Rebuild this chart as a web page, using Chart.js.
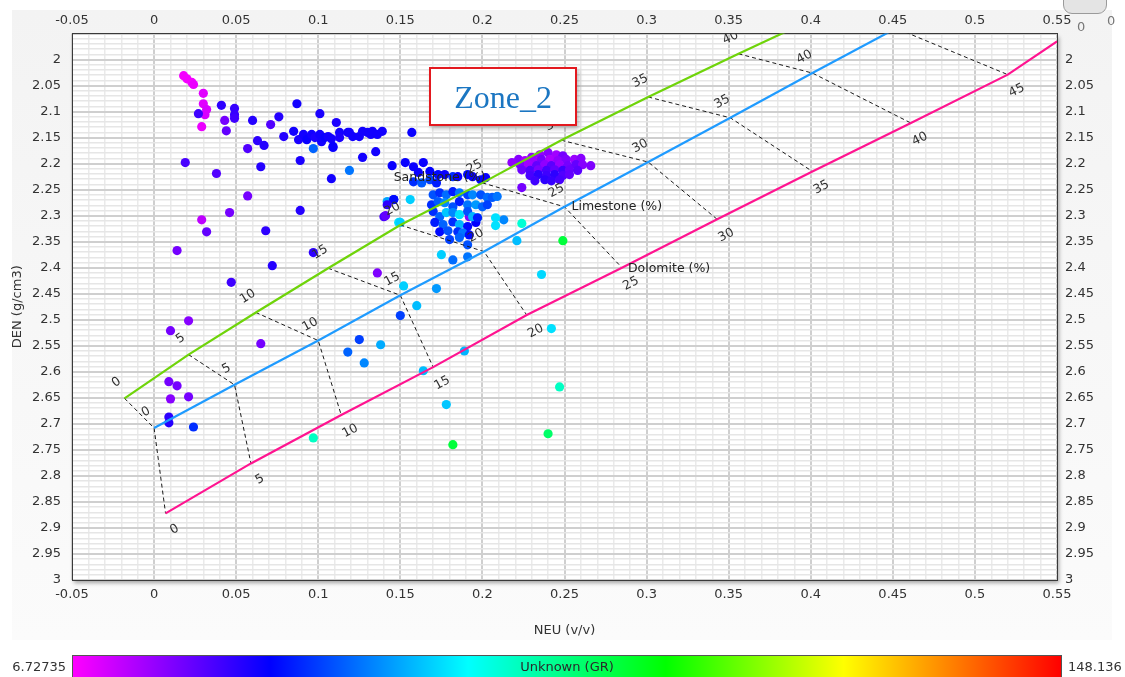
<!DOCTYPE html>
<html>
<head>
<meta charset="utf-8">
<script src="https://cdn.jsdelivr.net/npm/chart.js@4.4.1/dist/chart.umd.min.js"></script>
<style>
  html, body { margin: 0; padding: 0; background: #ffffff; }
  #wrap { position: relative; width: 1125px; height: 677px; overflow: hidden; font-family: "DejaVu Sans", sans-serif; }
  #panel { position: absolute; left: 12px; top: 10px; width: 1100px; height: 630px; background: linear-gradient(#f3f3f3, #fbfbfb); }
  #c { position: absolute; left: 0; top: 0; }
  #zone { position: absolute; left: 429px; top: 67px; width: 144px; height: 55px; border: 2px solid #e3191f; background: #ffffff;
          box-shadow: 2px 3px 4px rgba(0,0,0,0.25); font-family: "Liberation Serif", serif; font-size: 32px; color: #1b76c2;
          text-align: center; line-height: 56px; }
  #cbar { position: absolute; left: 72px; top: 655px; width: 990px; height: 26px; border: 1px solid #555; box-sizing: border-box; }
  #cbarTitle { position: absolute; left: 72px; top: 659px; width: 990px; text-align: center; font-size: 13px; color: #2a2a2a; }
  .cbLab { position: absolute; top: 659px; font-size: 13px; color: #333; }
  #knob { position: absolute; left: 1063px; top: -6px; width: 42px; height: 18px; border: 1px solid #9a9a9a; border-radius: 0 0 9px 9px; background: #e4e4e4; }
  .knobLab { position: absolute; font-size: 13px; color: #777; }
</style>
</head>
<body>
<div id="wrap">
  <div id="panel"></div>
  <canvas id="c" width="1125" height="677"></canvas>
  <div id="zone">Zone_2</div>
  <div id="cbar"></div>
  <div id="cbarTitle">Unknown (GR)</div>
  <div class="cbLab" id="cbMin" style="right:1059px;"></div>
  <div class="cbLab" id="cbMax" style="left:1068px;"></div>
  <div id="knob"></div>
  <div class="knobLab" style="left:1077px; top:19px;">0</div>
  <div class="knobLab" style="left:1107px; top:13px;">0</div>
</div>
<script>
// ---- Axis ranges ----
const NEU_MIN = -0.05, NEU_MAX = 0.55;
const DEN_MIN = 1.95, DEN_MAX = 3.0;
const GR_MIN = 6.72735, GR_MAX = 148.136;

// ---- Lithology porosity lines (neutron v/v, density g/cm3) ----
const porosity = [0, 5, 10, 15, 20, 25, 30, 35, 40, 45];
const sandNeu = [-0.018, 0.021, 0.062, 0.106, 0.150, 0.200, 0.248, 0.301, 0.356, 0.413];
const sandDen = [2.651, 2.567, 2.486, 2.401, 2.318, 2.237, 2.155, 2.072, 1.989, 1.905];
const limeNeu = [0.000, 0.049, 0.100, 0.150, 0.201, 0.250, 0.301, 0.351, 0.401, 0.452];
const limeDen = [2.708, 2.625, 2.540, 2.453, 2.369, 2.283, 2.197, 2.112, 2.026, 1.940];
const dolNeu  = [0.007, 0.059, 0.114, 0.170, 0.227, 0.285, 0.343, 0.401, 0.461, 0.520];
const dolDen  = [2.872, 2.776, 2.683, 2.591, 2.491, 2.400, 2.307, 2.215, 2.122, 2.029];
const dolEndNeu = 0.550, dolEndDen = 1.965;

// ---- Log samples: NEU, DEN, GR ----
const neu = [
  0.018, 0.020, 0.023, 0.024, 0.030, 0.030, 0.032, 0.031, 0.027, 0.029,
  0.041, 0.049, 0.049, 0.049, 0.043, 0.044, 0.060, 0.071, 0.076, 0.087,
  0.101, 0.111, 0.079, 0.063, 0.067, 0.057, 0.019, 0.038, 0.065, 0.089,
  0.097, 0.108, 0.119, 0.127, 0.135, 0.145, 0.157, 0.057, 0.029, 0.046,
  0.089, 0.032, 0.068, 0.014, 0.072, 0.047, 0.097, 0.136, 0.021, 0.010,
  0.065, 0.009, 0.014, 0.010, 0.021, 0.009, 0.009, 0.024, 0.097, 0.118,
  0.125, 0.128, 0.138, 0.142, 0.146, 0.140, 0.149, 0.150, 0.152, 0.172,
  0.160, 0.164, 0.189, 0.178, 0.182, 0.242, 0.247, 0.240, 0.249, 0.236,
  0.221, 0.224, 0.213, 0.208, 0.208, 0.197, 0.192, 0.196,
  0.085, 0.088, 0.091, 0.093, 0.096, 0.098, 0.101, 0.102, 0.104, 0.106,
  0.108, 0.109, 0.113, 0.113, 0.118, 0.119, 0.121, 0.125, 0.127, 0.130,
  0.132, 0.133, 0.136, 0.139, 0.109,
  0.153, 0.158, 0.161, 0.164, 0.168, 0.173, 0.177, 0.182, 0.185, 0.191,
  0.194, 0.199, 0.202, 0.158, 0.163, 0.168, 0.172, 0.156, 0.146, 0.142,
  0.141, 0.150,
  0.170, 0.174, 0.178, 0.182, 0.186, 0.191, 0.194, 0.199, 0.203, 0.206, 0.209,
  0.169, 0.173, 0.177, 0.182, 0.186, 0.191, 0.196, 0.200, 0.203,
  0.170, 0.174, 0.178, 0.182, 0.186, 0.191, 0.194, 0.197,
  0.171, 0.176, 0.182, 0.186, 0.191,
  0.174, 0.179, 0.185, 0.188, 0.192,
  0.180, 0.186, 0.191, 0.175, 0.182, 0.191,
  0.235, 0.240, 0.245, 0.249, 0.230,
  0.222, 0.226, 0.231, 0.236, 0.241, 0.246, 0.251, 0.256, 0.260,
  0.218, 0.223, 0.228, 0.233, 0.238, 0.242, 0.247, 0.252, 0.257, 0.261, 0.266,
  0.224, 0.229, 0.234, 0.239, 0.244, 0.249, 0.253, 0.258,
  0.229, 0.234, 0.239, 0.244, 0.249, 0.253,
  0.232, 0.238, 0.242, 0.247, 0.224
];
const den = [
  2.031, 2.037, 2.044, 2.048, 2.065, 2.085, 2.096, 2.106, 2.104, 2.129,
  2.088, 2.094, 2.106, 2.113, 2.117, 2.137, 2.117, 2.125, 2.110, 2.085,
  2.104, 2.121, 2.148, 2.156, 2.165, 2.171, 2.198, 2.219, 2.206, 2.194,
  2.171, 2.229, 2.213, 2.188, 2.177, 2.204, 2.140, 2.262, 2.308, 2.294,
  2.290, 2.331, 2.329, 2.367, 2.396, 2.428, 2.371, 2.410, 2.502, 2.521,
  2.546, 2.619, 2.627, 2.652, 2.648, 2.687, 2.698, 2.706, 2.727, 2.562,
  2.538, 2.583, 2.548, 2.273, 2.269, 2.302, 2.313, 2.492, 2.435, 2.440,
  2.473, 2.598, 2.560, 2.663, 2.740, 2.517, 2.629, 2.719, 2.348, 2.413,
  2.348, 2.315, 2.308, 2.304, 2.319, 2.304, 2.302, 2.313,
  2.138, 2.154, 2.144, 2.154, 2.144, 2.150, 2.144, 2.158, 2.150, 2.148,
  2.152, 2.167, 2.140, 2.150, 2.140, 2.140, 2.148, 2.148, 2.138, 2.140,
  2.144, 2.138, 2.144, 2.138, 2.169,
  2.198, 2.206, 2.217, 2.198, 2.215, 2.221, 2.221, 2.225, 2.225, 2.221,
  2.225, 2.231, 2.227, 2.235, 2.237, 2.231, 2.237, 2.269, 2.269, 2.279,
  2.300, 2.313,
  2.260, 2.256, 2.260, 2.254, 2.256, 2.260, 2.260, 2.260, 2.265, 2.265, 2.263,
  2.279, 2.273, 2.275, 2.283, 2.273, 2.279, 2.279, 2.283, 2.279,
  2.292, 2.302, 2.294, 2.294, 2.298, 2.292, 2.302, 2.304,
  2.313, 2.317, 2.312, 2.317, 2.321,
  2.331, 2.329, 2.331, 2.333, 2.337,
  2.346, 2.342, 2.356, 2.375, 2.385, 2.379,
  2.183, 2.179, 2.183, 2.185, 2.188,
  2.192, 2.194, 2.194, 2.192, 2.192, 2.194, 2.192, 2.192, 2.190,
  2.198, 2.202, 2.202, 2.204, 2.202, 2.204, 2.202, 2.204, 2.202, 2.202, 2.204,
  2.212, 2.213, 2.212, 2.213, 2.212, 2.213, 2.212, 2.213,
  2.223, 2.221, 2.223, 2.221, 2.223, 2.221,
  2.233, 2.231, 2.233, 2.231, 2.246
];
const gr = [
  8, 8, 8, 9, 10, 10, 11, 11, 28, 9,
  30, 29, 29, 28, 22, 24, 31, 26, 31, 33,
  32, 32, 31, 30, 31, 26, 27, 26, 31, 32,
  46, 33, 48, 33, 33, 34, 34, 22, 14, 22,
  31, 24, 30, 22, 31, 28, 30, 21, 20, 22,
  22, 22, 22, 20, 22, 30, 31, 40, 70, 46,
  42, 50, 54, 53, 38, 27, 60, 42, 58, 52,
  56, 56, 55, 57, 85, 60, 70, 80, 85, 59,
  56, 68, 50, 60, 60, 60, 20, 35,
  33, 32, 33, 34, 33, 32, 33, 33, 34, 33,
  33, 34, 33, 32, 33, 33, 33, 33, 33, 33,
  33, 33, 33, 33, 34,
  34, 34, 34, 34, 35, 36, 34, 40, 34, 36,
  34, 36, 34, 40, 45, 42, 38, 58, 36, 30,
  24, 58,
  44, 40, 47, 38, 48, 42, 50, 44, 47, 45, 48,
  40, 45, 50, 44, 38, 48, 52, 46, 42,
  40, 46, 57, 50, 60, 44, 55, 38,
  38, 46, 40, 55, 36,
  36, 44, 40, 48, 36,
  42, 46, 44, 58, 47, 48,
  18, 20, 17, 22, 19,
  20, 16, 18, 22, 16, 19, 21, 18, 20,
  19, 21, 17, 24, 19, 25, 18, 22, 24, 20, 21,
  23, 26, 21, 27, 24, 28, 23, 25,
  27, 30, 28, 30, 26, 24,
  28, 30, 29, 27, 22
];

// ---- GR colour ramp ----
const rampStops = [
  [0.00, [255, 0, 255]],
  [0.20, [0, 0, 255]],
  [0.40, [0, 255, 255]],
  [0.60, [0, 255, 0]],
  [0.78, [255, 255, 0]],
  [1.00, [255, 0, 0]]
];
function rampColor(v) {
  let f = (v - GR_MIN) / (GR_MAX - GR_MIN);
  f = Math.max(0, Math.min(1, f));
  for (let i = 1; i < rampStops.length; i++) {
    const [f1, c1] = rampStops[i];
    const [f0, c0] = rampStops[i - 1];
    if (f <= f1) {
      const t = (f - f0) / (f1 - f0);
      const c = c0.map((a, k) => Math.round(a + (c1[k] - a) * t));
      return `rgb(${c[0]},${c[1]},${c[2]})`;
    }
  }
  return 'rgb(255,0,0)';
}

// colour bar legend
document.getElementById('cbar').style.background =
  'linear-gradient(to right,' + rampStops.map(s => `rgb(${s[1].join(',')}) ${s[0] * 100}%`).join(',') + ')';
document.getElementById('cbMin').textContent = String(GR_MIN);
document.getElementById('cbMax').textContent = String(GR_MAX);

// ---- Build datasets ----
const samples = neu.map((x, i) => ({ x, y: den[i] }));
const sampleColors = gr.map(rampColor);
const toPts = (xs, ys) => xs.map((x, i) => ({ x, y: ys[i] }));

const lithologies = [
  { name: 'Sandstone (%)', xs: sandNeu, ys: sandDen, color: '#6fd40a', dx: -8, dy: -16 },
  { name: 'Limestone (%)', xs: limeNeu, ys: limeDen, color: '#1f9bff', dx: -8, dy: -16 },
  { name: 'Dolomite (%)',  xs: dolNeu,  ys: dolDen,  color: '#ff1490', dx: 9,  dy: 16 }
];

const datasets = [];
datasets.push({
  label: 'GR samples', data: samples, order: 3,
  pointRadius: 4.6, pointHoverRadius: 4.6, pointBorderWidth: 0,
  pointBackgroundColor: sampleColors, pointBorderColor: sampleColors, showLine: false
});
lithologies.forEach((L, idx) => {
  const pts = toPts(L.xs, L.ys);
  if (idx === 2) pts.push({ x: dolEndNeu, y: dolEndDen });
  datasets.push({
    label: L.name, data: pts, order: 0, showLine: true, borderColor: L.color,
    borderWidth: 2.2, pointRadius: 0, tension: 0, fill: false
  });
});
porosity.forEach((p, i) => {
  datasets.push({
    label: 'iso ' + p, order: 1, showLine: true, borderColor: '#1a1a1a', borderWidth: 1,
    borderDash: [4, 3], pointRadius: 0, fill: false,
    data: [{ x: sandNeu[i], y: sandDen[i] }, { x: limeNeu[i], y: limeDen[i] }, { x: dolNeu[i], y: dolDen[i] }]
  });
});

// ---- Plugins ----
const plotBackground = {
  id: 'plotBackground',
  beforeDraw(chart) {
    const { ctx, chartArea: a } = chart;
    ctx.save();
    ctx.shadowColor = 'rgba(0,0,0,0.35)';
    ctx.shadowBlur = 4; ctx.shadowOffsetX = 2; ctx.shadowOffsetY = 3;
    ctx.fillStyle = '#ffffff';
    ctx.fillRect(a.left, a.top, a.right - a.left, a.bottom - a.top);
    ctx.restore();
  }
};

const curveLabels = {
  id: 'curveLabels',
  afterDatasetsDraw(chart) {
    const { ctx, chartArea: a, scales } = chart;
    const sx = scales.x, sy = scales.y;
    ctx.save();
    ctx.beginPath(); ctx.rect(a.left, a.top, a.right - a.left, a.bottom - a.top); ctx.clip();
    ctx.font = '12.5px "DejaVu Sans", sans-serif';
    ctx.fillStyle = '#303030';
    ctx.textAlign = 'center'; ctx.textBaseline = 'middle';
    lithologies.forEach(L => {
      const n = L.xs.length;
      L.xs.forEach((v, i) => {
        const px = sx.getPixelForValue(v), py = sy.getPixelForValue(L.ys[i]);
        const j = Math.min(i + 1, n - 1), k = Math.max(i - 1, 0);
        const ang = Math.atan2(sy.getPixelForValue(L.ys[j]) - sy.getPixelForValue(L.ys[k]),
                               sx.getPixelForValue(L.xs[j]) - sx.getPixelForValue(L.xs[k]));
        ctx.save();
        ctx.translate(px + L.dx, py + L.dy);
        ctx.rotate(ang);
        ctx.fillText(String(porosity[i]), 0, 0);
        ctx.restore();
      });
    });
    // lithology names beside the 25 % point
    const i25 = porosity.indexOf(25);
    ctx.fillStyle = '#222';
    ctx.textAlign = 'right';
    ctx.fillText(lithologies[0].name, sx.getPixelForValue(sandNeu[i25]) + 3, sy.getPixelForValue(sandDen[i25]) - 5);
    ctx.textAlign = 'left';
    ctx.fillText(lithologies[1].name, sx.getPixelForValue(limeNeu[i25]) + 7, sy.getPixelForValue(limeDen[i25]));
    ctx.fillText(lithologies[2].name, sx.getPixelForValue(dolNeu[i25]) + 6, sy.getPixelForValue(dolDen[i25]) + 1);
    ctx.restore();
  }
};

// ---- Axes ----
const isMajor = v => Math.abs(v * 20 - Math.round(v * 20)) < 1e-6;
const fmt = v => String(Math.round(v * 100) / 100);
const tickFont = { family: '"DejaVu Sans", sans-serif', size: 13 };
const ticksFor = (pad, hideBelow) => ({
  stepSize: 0.01, autoSkip: false, maxTicksLimit: 200, maxRotation: 0, minRotation: 0,
  font: tickFont, color: '#333', padding: pad,
  callback: v => (isMajor(v) && !(hideBelow !== undefined && v < hideBelow)) ? fmt(v) : ''
});
const gridFor = (minorColor, minorWidth) => ({
  drawTicks: false,
  color: c => (c.tick && isMajor(c.tick.value)) ? '#cfcfcf' : minorColor,
  lineWidth: c => (c.tick && isMajor(c.tick.value)) ? 2 : minorWidth
});
const borderOpt = { display: true, color: '#3a3a3a', width: 1 };

new Chart(document.getElementById('c'), {
  type: 'scatter',
  data: { datasets },
  plugins: [plotBackground, curveLabels],
  options: {
    responsive: false, animation: false, devicePixelRatio: 1,
    layout: { padding: { left: 7, right: 0, top: 0, bottom: 37 } },
    plugins: { legend: { display: false }, tooltip: { enabled: false } },
    scales: {
      x: {
        type: 'linear', position: 'bottom', min: NEU_MIN, max: NEU_MAX,
        ticks: ticksFor(7), grid: gridFor('#eaeaea', 1.5), border: borderOpt,
        title: { display: true, text: 'NEU (v/v)', font: tickFont, color: '#333', padding: { top: 0, bottom: 2 } },
        afterFit(s) { s.height = 60; }
      },
      x2: {
        type: 'linear', position: 'top', min: NEU_MIN, max: NEU_MAX,
        ticks: ticksFor(5), grid: { display: false, drawTicks: false }, border: borderOpt,
        afterFit(s) { s.height = 33.5; }
      },
      y: {
        type: 'linear', position: 'left', reverse: true, min: DEN_MIN, max: DEN_MAX,
        ticks: ticksFor(11, 1.96), grid: gridFor('#e6e6e6', 1.5), border: borderOpt,
        title: { display: true, text: 'DEN (g/cm3)', font: tickFont, color: '#333', padding: { top: 3, bottom: 0 } },
        afterFit(s) { s.width = 65; }
      },
      y2: {
        type: 'linear', position: 'right', reverse: true, min: DEN_MIN, max: DEN_MAX,
        ticks: ticksFor(8, 1.96), grid: { display: false, drawTicks: false }, border: borderOpt,
        afterFit(s) { s.width = 68; }
      }
    }
  }
});
</script>
</body>
</html>
